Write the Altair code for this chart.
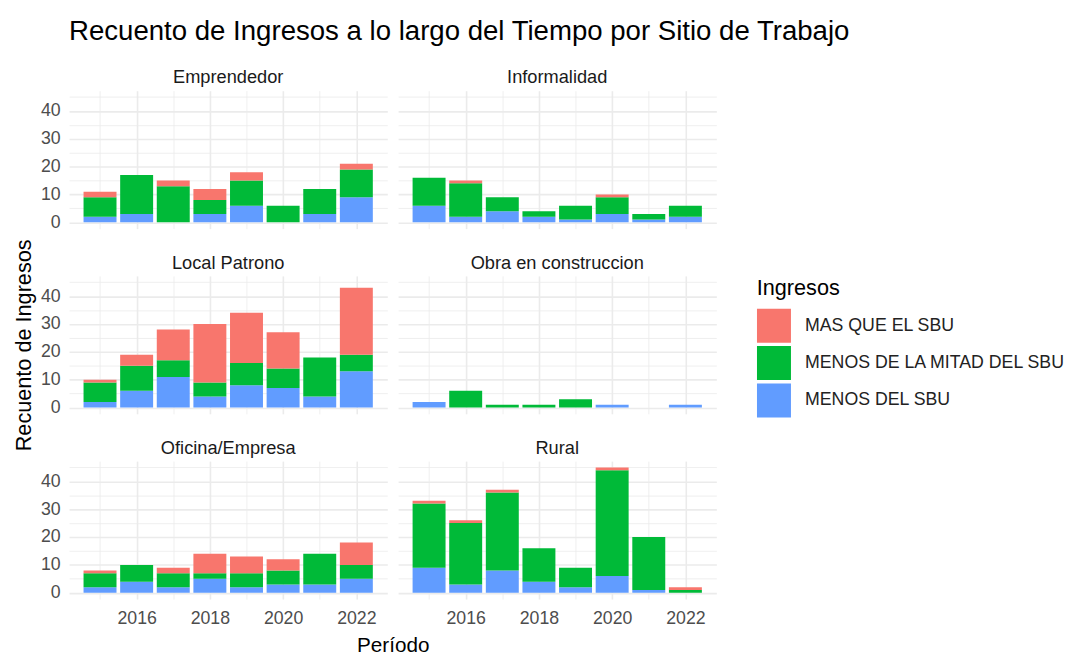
import altair as alt
import pandas as pd

# ---------------- data ----------------
years = [2015, 2016, 2017, 2018, 2019, 2020, 2021, 2022]
sitios = ["Emprendedor", "Informalidad", "Local Patrono",
          "Obra en construccion", "Oficina/Empresa", "Rural"]

# counts per year for each income group
menos_del_sbu = {
    "Emprendedor":          [2, 3, 0, 3, 6, 0, 3, 9],
    "Informalidad":         [6, 2, 4, 2, 1, 3, 1, 2],
    "Local Patrono":        [2, 6, 11, 4, 8, 7, 4, 13],
    "Obra en construccion": [2, 0, 0, 0, 0, 1, 0, 1],
    "Oficina/Empresa":      [2, 4, 2, 5, 2, 3, 3, 5],
    "Rural":                [9, 3, 8, 4, 2, 6, 1, 0],
}
menos_mitad_sbu = {
    "Emprendedor":          [7, 14, 13, 5, 9, 6, 9, 10],
    "Informalidad":         [10, 12, 5, 2, 5, 6, 2, 4],
    "Local Patrono":        [7, 9, 6, 5, 8, 7, 14, 6],
    "Obra en construccion": [0, 6, 1, 1, 3, 0, 0, 0],
    "Oficina/Empresa":      [5, 6, 5, 2, 5, 5, 11, 5],
    "Rural":                [23, 22, 28, 12, 7, 38, 19, 1],
}
mas_que_sbu = {
    "Emprendedor":          [2, 0, 2, 4, 3, 0, 0, 2],
    "Informalidad":         [0, 1, 0, 0, 0, 1, 0, 0],
    "Local Patrono":        [1, 4, 11, 21, 18, 13, 0, 24],
    "Obra en construccion": [0, 0, 0, 0, 0, 0, 0, 0],
    "Oficina/Empresa":      [1, 0, 2, 7, 6, 4, 0, 8],
    "Rural":                [1, 1, 1, 0, 0, 1, 0, 1],
}

categorias = ["MAS QUE EL SBU", "MENOS DE LA MITAD DEL SBU", "MENOS DEL SBU"]
colores = ["#F8766D", "#00BA38", "#619CFF"]
x_ticks = [2015, 2016, 2017, 2018, 2019, 2020, 2021, 2022]
y_ticks = [0, 5, 10, 15, 20, 25, 30, 35, 40, 45]

rows = []
for s in sitios:
    for cat, src, rank in (("MENOS DEL SBU", menos_del_sbu, 0),
                           ("MENOS DE LA MITAD DEL SBU", menos_mitad_sbu, 1),
                           ("MAS QUE EL SBU", mas_que_sbu, 2)):
        for yr, v in zip(years, src[s]):
            if v > 0:
                rows.append({"sitio": s, "anio": yr, "ingresos": cat,
                             "n": v, "rank": rank})
df = pd.DataFrame(rows)

FONT = "Liberation Sans"
W, H = 323, 140
COL_GAP, ROW_GAP = 11, 48
GRID = "#ebebeb"


def cell(sitio, col, row):
    show_x = row == 2
    show_y = col == 0
    x_axis = alt.Axis(
        values=x_ticks, format="d",
        labelExpr="datum.value % 2 == 0 ? datum.label : ''",
        labels=show_x, ticks=False, domain=False,
        grid=True, gridColor=GRID,
        gridWidth={"condition": {"test": "datum.value % 2 == 0", "value": 1.6},
                   "value": 0.8},
        labelFontSize=18, labelColor="#4d4d4d", labelPadding=11,
        title="Período" if (row == 2 and col == 0) else None,
        titleX=(2 * W + COL_GAP) / 2, titleFontSize=21, titleFontWeight="normal",
        titleColor="#000000", titlePadding=7,
    )
    y_axis = alt.Axis(
        values=y_ticks,
        labelExpr="datum.value % 10 == 0 ? datum.label : ''",
        labels=show_y, ticks=False, domain=False,
        grid=True, gridColor=GRID,
        gridWidth={"condition": {"test": "datum.value % 10 == 0", "value": 1.6},
                   "value": 0.8},
        labelFontSize=18, labelColor="#4d4d4d", labelPadding=9,
        title="Recuento de Ingresos" if (row == 1 and col == 0) else None,
        titleFontSize=22, titleFontWeight="normal", titleColor="#000000",
        titlePadding=5,
    )
    # the long y-axis title of the middle-left panel lifts its strip title;
    # push that one back down so it sits at the same height as its neighbour
    strip_dy = 38 if (row == 1 and col == 0) else 0
    return (
        alt.Chart(df, title=alt.TitleParams(sitio, fontSize=18.5, color="#1a1a1a",
                                            fontWeight="normal", anchor="middle",
                                            offset=4, dy=strip_dy, font=FONT))
        .transform_filter(alt.datum.sitio == sitio)
        .transform_stack(stack="n", groupby=["anio"], as_=["y0", "y1"],
                         sort=[alt.SortField("rank", order="ascending")])
        .transform_calculate(x0="datum.anio - 0.45", x1="datum.anio + 0.45")
        .mark_bar()
        .encode(
            x=alt.X("x0:Q", scale=alt.Scale(domain=[2014.155, 2022.845],
                                            nice=False, zero=False),
                    axis=x_axis),
            x2="x1:Q",
            y=alt.Y("y0:Q", scale=alt.Scale(domain=[-2.25, 47.25],
                                            nice=False, zero=False),
                    axis=y_axis),
            y2="y1:Q",
            color=alt.Color(
                "ingresos:N",
                scale=alt.Scale(domain=categorias, range=colores),
                legend=alt.Legend(
                    title="Ingresos", orient="none", legendX=698, legendY=190,
                    symbolType="square", symbolSize=1190, symbolStrokeWidth=0,
                    symbolOpacity=1, rowPadding=3, labelOffset=14,
                    labelFontSize=18, labelColor="#222222", labelLimit=0,
                    titleFontSize=22, titleFontWeight="normal",
                    titleColor="#000000", titlePadding=9,
                ),
            ),
        )
        .properties(width=W, height=H)
    )


cells = []
for i, s in enumerate(sitios):
    cells.append(cell(s, i % 2, i // 2))

chart = (
    alt.concat(*cells, columns=2, bounds="flush",
               spacing={"row": ROW_GAP, "column": COL_GAP})
    .properties(
        title=alt.TitleParams(
            "Recuento de Ingresos a lo largo del Tiempo por Sitio de Trabajo",
            fontSize=28, fontWeight="normal", anchor="start", dx=57,
            color="#000000", offset=23, font=FONT,
        ),
        padding={"left": 4, "top": 5, "right": 5, "bottom": 5},
    )
    .configure(font=FONT, background="white")
    .configure_view(strokeWidth=0)
)

chart.save("out.html", embed_options={"renderer": "svg", "actions": False})
